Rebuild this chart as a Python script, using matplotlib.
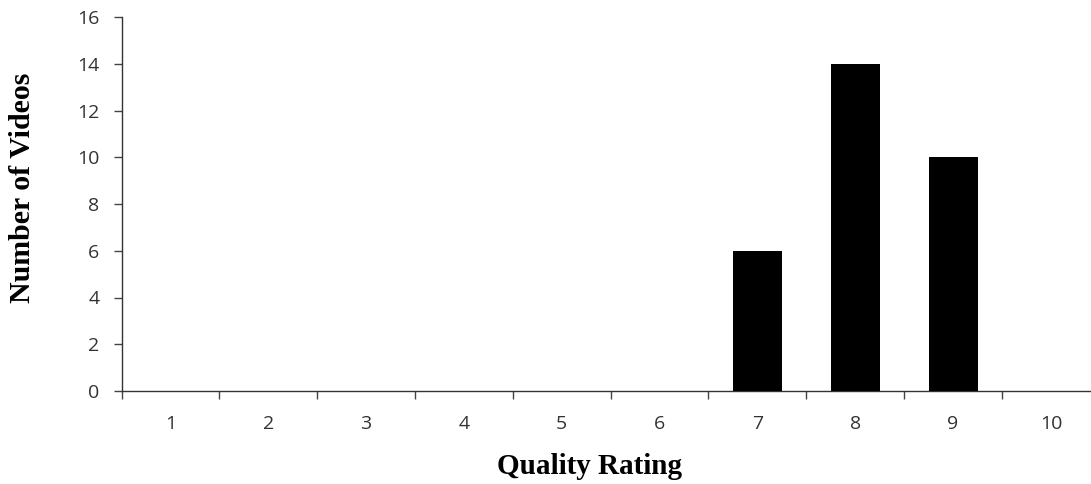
import numpy as np
import matplotlib.pyplot as plt

ratings = ["1", "2", "3", "4", "5", "6", "7", "8", "9", "10"]
videos = [0, 0, 0, 0, 0, 0, 6, 14, 10, 0]
y_ticks = [0, 2, 4, 6, 8, 10, 12, 14, 16]

fig = plt.figure(figsize=(10.91, 4.84), dpi=100)
ax = fig.add_axes([121.5 / 1091, 1 - 391 / 484, 969.5 / 1091, (391 - 17) / 484])

x = np.arange(1, len(ratings) + 1)
ax.bar(x, videos, width=0.5, color="black", zorder=3)

ax.set_xlim(0.5, 10.41)
ax.set_ylim(0, 16)
ax.set_yticks(y_ticks)
ax.set_xticks(x)
ax.set_xticklabels(ratings)
ax.set_xticks(np.arange(0.5, 10.5, 1), minor=True)

for lab in ax.get_yticklabels() + ax.get_xticklabels():
    lab.set_fontfamily("Open Sans")
    lab.set_fontsize(14)
    lab.set_color("#333333")

ax.tick_params(axis="x", which="major", length=0, pad=17)
ax.tick_params(axis="x", which="minor", length=6, width=1, color="#444444")
ax.tick_params(axis="y", length=6, width=1, color="#444444", pad=10)

for side in ["top", "right"]:
    ax.spines[side].set_visible(False)
for side in ["left", "bottom"]:
    ax.spines[side].set_color("#333333")
    ax.spines[side].set_linewidth(1)

ax.set_xlabel("Quality Rating", family="Liberation Serif", fontsize=21,
              fontweight="bold", va="center")
ax.xaxis.set_label_coords((589.5 - 121.5) / 969.5, (391 - 467) / 374)
ax.set_ylabel("Number of Videos", family="Liberation Serif", fontsize=21.5,
              fontweight="bold", va="center")
ax.yaxis.set_label_coords((22.5 - 121.5) / 969.5, (391 - 187.5) / 374)

fig.savefig("out.png", dpi=100)
